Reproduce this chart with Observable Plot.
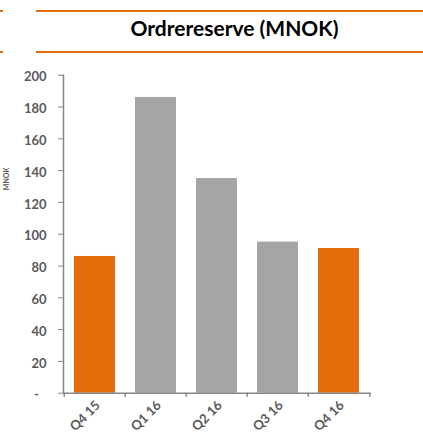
<!DOCTYPE html>
<html><head><meta charset="utf-8">
<script src="https://cdn.jsdelivr.net/npm/d3@7"></script>
<script src="https://cdn.jsdelivr.net/npm/@observablehq/plot@0.6"></script>
<style>
body{margin:0;background:#fff;font-family:Lato,"Open Sans",sans-serif;}
#wrap{position:relative;width:423px;height:437px;overflow:hidden;}
#head{position:relative;height:62px;}
.ln{position:absolute;height:2px;background:#E46C0A;}
#title{position:absolute;left:46px;width:377px;top:14px;text-align:center;font-weight:bold;font-size:21px;line-height:28px;color:#000;}
#chart svg{display:block;}
#chart text{font-weight:bold;}
</style></head>
<body>
<div id="wrap">
  <div id="head">
    <div class="ln" style="left:0;width:3px;top:10px"></div>
    <div class="ln" style="left:36px;right:0;top:10px"></div>
    <div class="ln" style="left:0;width:3px;top:51px"></div>
    <div class="ln" style="left:36px;right:0;top:51px"></div>
    <div id="title">Ordrereserve (MNOK)</div>
  </div>
  <div id="chart"></div>
</div>
<script>
const categories = ["Q4 15", "Q1 16", "Q2 16", "Q3 16", "Q4 16"];
const values = [86, 186, 135, 95, 91];
const yTicks = [0, 20, 40, 60, 80, 100, 120, 140, 160, 180, 200];
const yLabel = "MNOK";

const data = categories.map((c, i) => ({cat: c, value: values[i]}));
const orange = "#E46C0A", gray = "#A5A5A5", axisGray = "#868686", textGray = "#595959";

const W = 423, H = 375, mL = 63, mR = 52.3, mT = 12.7, mB = 44.3;
const step = (W - mL - mR) / categories.length;

const plot = Plot.plot({
  width: W, height: H,
  marginLeft: mL, marginRight: mR, marginTop: mT, marginBottom: mB,
  style: {fontFamily: "Lato, 'Open Sans', sans-serif", fontWeight: "bold", fontSize: "13px", color: textGray, background: "#fff"},
  x: {domain: categories, paddingInner: 0.33, paddingOuter: 0.165},
  y: {domain: [0, 200]},
  marks: [
    Plot.barY(data, {x: "cat", y: "value", fill: d => d.cat.startsWith("Q4") ? orange : gray}),
    Plot.ruleY([0], {stroke: axisGray, strokeWidth: 1.5}),
    Plot.frame({anchor: "left", stroke: axisGray, strokeWidth: 1.5}),
    Plot.ruleX(categories, {x: d => d, y1: 0, y2: -2.6, dx: -step / 2, stroke: axisGray, strokeWidth: 1.5}),
    Plot.ruleX(categories.slice(-1), {x: d => d, y1: 0, y2: -2.6, dx: step / 2, stroke: axisGray, strokeWidth: 1.5}),
    Plot.axisY({ticks: yTicks, tickSize: 5, stroke: axisGray, tickFormat: () => "", label: null}),
    Plot.axisY({ticks: yTicks, tickSize: 0, tickPadding: 17, fill: textGray, dy: 2,
      tickFormat: d => d === 0 ? "-\u2007" : String(d), label: null}),
    Plot.axisX({tickRotate: -45, tickSize: 0, tickPadding: 10, dx: 3, fill: textGray, label: null}),
    Plot.text([yLabel], {frameAnchor: "left", rotate: -90, dx: -57, dy: -44, fontSize: 7, fontWeight: "bold", fill: textGray})
  ]
});
document.getElementById("chart").appendChild(plot);
</script>
</body></html>
